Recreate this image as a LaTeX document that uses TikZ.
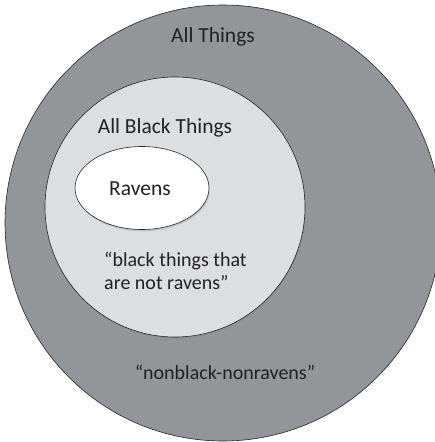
\documentclass[tikz,border=0pt]{standalone}
\usepackage{fontspec}
\setmainfont{Carlito}
\usetikzlibrary{shadows}
\definecolor{grisfondo}{RGB}{147,149,152}
\definecolor{grisclaro}{RGB}{221,222,224}
\definecolor{textogris}{RGB}{35,33,34}
\begin{document}
\begin{tikzpicture}[x=1pt,y=-1pt,
    every node/.style={font=\fontsize{20}{23}\selectfont,text=textogris,inner sep=0pt},
    titulo/.style={font=\fontsize{21.5}{25}\selectfont},
    conjunto/.style={draw=black!85,line width=.6pt},
    sombra/.style={drop shadow={shadow xshift=.8pt,shadow yshift=-1.8pt,opacity=.3}}]
    \useasboundingbox (0,0) rectangle (434,442);
    % Todas las cosas: el disco exterior.
    \fill[white] (0,0) rectangle (434,442);
    \draw[conjunto,fill=grisfondo] (223,223) circle[radius=218];
    % Cosas negras y cuervos, uno dentro del otro.
    \draw[conjunto,fill=grisclaro,sombra] (175,207) circle[radius=130];
    \draw[conjunto,fill=white,sombra] (142,188) ellipse[x radius=67,y radius=41.5];
    % Rótulos de cada región.
    \node[titulo] (todas) at (213,37) {All Things};
    \node[titulo] (negras) at (165,128) {All Black Things};
    \node[titulo] (cuervos) at (140,189) {Ravens};
    \node[align=left,anchor=west] (noCuervos) at (104,271)
        {“black things that\\are not ravens”};
    \node (ninguno) at (225,372) {“nonblack-nonravens”};
\end{tikzpicture}
\end{document}
